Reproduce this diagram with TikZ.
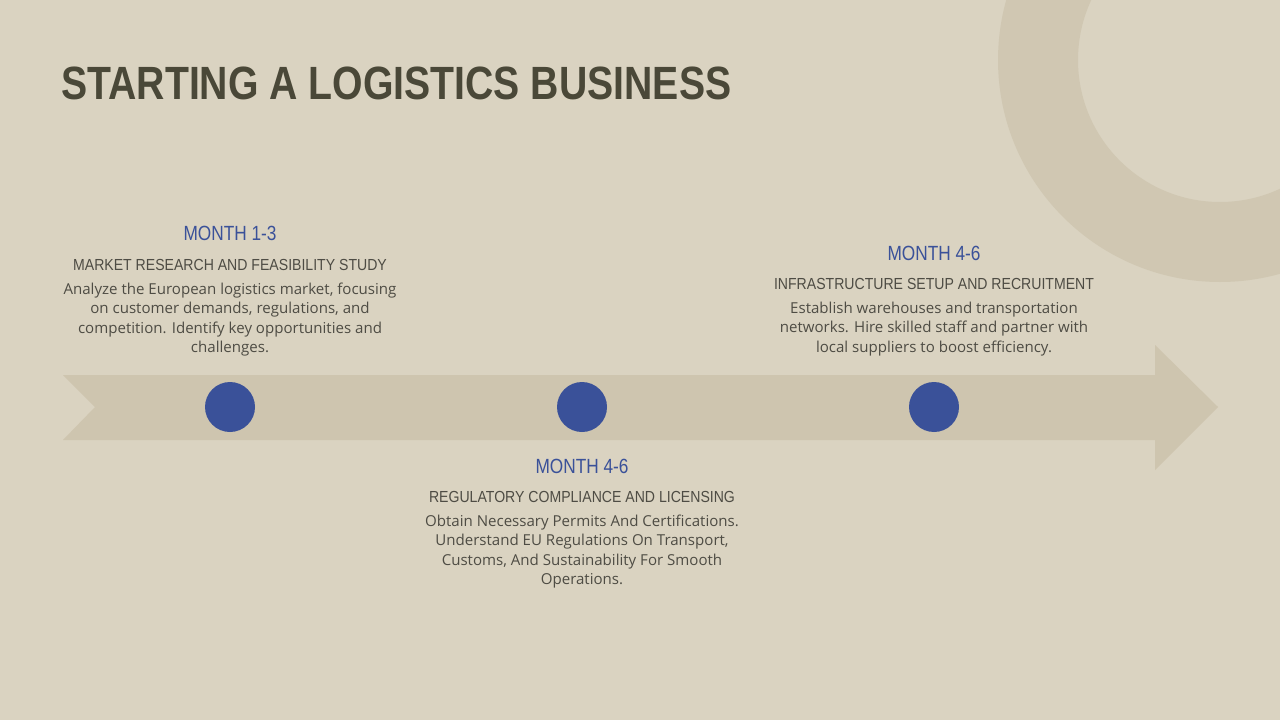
\documentclass[tikz,border=0pt]{standalone}
\usepackage{fontspec}
\setmainfont{Open Sans}
\newfontfamily\condfont[FakeStretch=0.84]{Liberation Sans}
\newfontfamily\headfont[FakeStretch=0.88]{Liberation Sans}
\newfontfamily\condbold[FakeStretch=0.84]{Liberation Sans Bold}
\definecolor{bg}{HTML}{DAD3C1}
\definecolor{ring}{HTML}{D0C7B2}
\definecolor{arr}{HTML}{CEC5AF}
\definecolor{dot}{HTML}{3A5199}
\definecolor{titlec}{HTML}{4A4838}
\definecolor{txt}{HTML}{4E4C44}
\begin{document}
\begin{tikzpicture}[x=0.75pt,y=-0.75pt,
 month/.style={font=\condfont\fontsize{15.4}{18}\selectfont,text=dot,anchor=base},
 head/.style={font=\headfont\fontsize{12}{15}\selectfont,text=txt,anchor=base},
 body/.style={font=\fontsize{11.3}{14.6}\selectfont,text=txt,align=center,anchor=north},
 dotst/.style={circle,fill=dot,minimum size=37.5pt,inner sep=0pt}]
\fill[bg] (0,0) rectangle (1280,720);
\useasboundingbox (0,0) rectangle (1280,720);
\begin{scope}
\clip (0,0) rectangle (1280,720);
\fill[ring,even odd rule] (1220,60) circle[radius=222] (1220,60) circle[radius=142];
\end{scope}
\fill[arr] (63,375) -- (1155,375) -- (1155,345) -- (1218,407) -- (1155,470) -- (1155,440) -- (63,440) -- (95,407) -- cycle;
\node[anchor=base west,inner sep=0pt,font=\condbold\fontsize{35}{40}\selectfont,text=titlec] (title) at (61,100) {STARTING A LOGISTICS BUSINESS};
\node[dotst] (d1) at (230,407) {};
\node[dotst] (d2) at (582,407) {};
\node[dotst] (d3) at (934,407) {};
\node[month] (m1) at (230,241) {MONTH 1-3};
\node[head] (h1) at (230,270) {MARKET RESEARCH AND FEASIBILITY STUDY};
\node[body] (b1) at (230,278) {Analyze the European logistics market, focusing\\on customer demands, regulations, and\\competition. Identify key opportunities and\\challenges.};
\node[month] (m3) at (934,260) {MONTH 4-6};
\node[head] (h3) at (934,289) {INFRASTRUCTURE SETUP AND RECRUITMENT};
\node[body] (b3) at (934,297) {Establish warehouses and transportation\\networks. Hire skilled staff and partner with\\local suppliers to boost efficiency.};
\node[month] (m2) at (582,473) {MONTH 4-6};
\node[head] (h2) at (582,502) {REGULATORY COMPLIANCE AND LICENSING};
\node[body] (b2) at (582,510) {Obtain Necessary Permits And Certifications.\\Understand EU Regulations On Transport,\\Customs, And Sustainability For Smooth\\Operations.};
\end{tikzpicture}
\end{document}
